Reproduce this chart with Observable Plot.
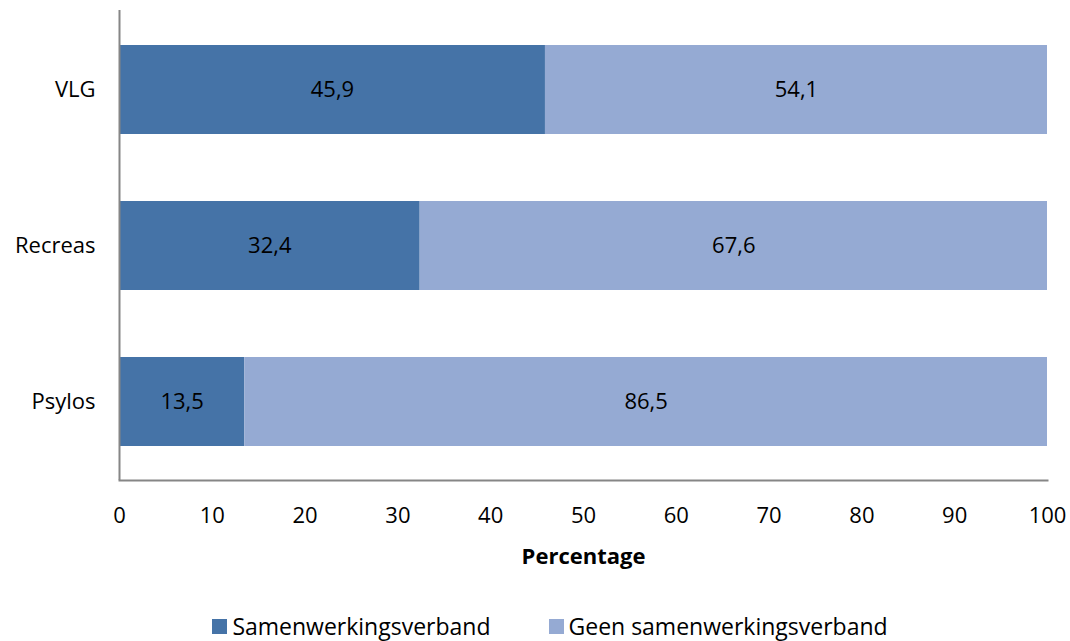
<!DOCTYPE html>
<html>
<head>
<meta charset="utf-8">
<script src="https://cdn.jsdelivr.net/npm/d3@7"></script>
<script src="https://cdn.jsdelivr.net/npm/@observablehq/plot@0.6"></script>
<style>
  body { margin: 0; background: #fff; font-family: "Open Sans", sans-serif; }
  #legend { display: flex; justify-content: center; gap: 58px; font-size: 23px; color: #000; margin-top: 40px; padding-left: 30px; }
  .item { display: flex; align-items: center; gap: 5px; }
  .sw { width: 15px; height: 15px; display: inline-block; }
</style>
</head>
<body>
<div id="chart"></div>
<div id="legend"></div>
<script>
const categories = ["VLG", "Recreas", "Psylos"];
const series = ["Samenwerkingsverband", "Geen samenwerkingsverband"];
const samen = [45.9, 32.4, 13.5];
const geen = [54.1, 67.6, 86.5];
const colors = ["#4573A7", "#95AAD3"];
const xTicks = [0, 10, 20, 30, 40, 50, 60, 70, 80, 90, 100];

const data = [];
categories.forEach((c, i) => {
  data.push({cat: c, series: series[0], value: samen[i]});
  data.push({cat: c, series: series[1], value: geen[i]});
});
const fmt = v => v.toFixed(1).replace(".", ",");

const chart = Plot.plot({
  width: 1070,
  height: 570,
  marginLeft: 119,
  marginRight: 23,
  marginTop: 10,
  marginBottom: 90,
  style: {fontFamily: "Open Sans, sans-serif", fontSize: "22px", color: "#000", background: "#fff"},
  x: {domain: [0, 100], ticks: xTicks, tickSize: 0, tickPadding: 27, label: null},
  y: {domain: categories, paddingInner: 0.43, paddingOuter: 0.215, tickSize: 0, tickPadding: 24, label: null},
  color: {domain: series, range: colors},
  marks: [
    Plot.barX(data, Plot.stackX({x: "value", y: "cat", fill: "series", order: series})),
    Plot.text(data, Plot.stackX({x: "value", y: "cat", z: "series", order: series, text: d => fmt(d.value), fill: "#000", fontSize: 22})),
    Plot.ruleX([0], {stroke: "#868686", strokeWidth: 2}),
    Plot.frame({anchor: "bottom", stroke: "#868686", strokeWidth: 2}),
    Plot.text(["Percentage"], {frameAnchor: "bottom", dy: 83, fontWeight: "bold", fontSize: 22, fill: "#000"})
  ]
});
document.getElementById("chart").appendChild(chart);

const legend = document.getElementById("legend");
series.forEach((s, i) => {
  const it = document.createElement("div");
  it.className = "item";
  const sw = document.createElement("span");
  sw.className = "sw";
  sw.style.background = colors[i];
  const t = document.createElement("span");
  t.textContent = s;
  it.appendChild(sw); it.appendChild(t);
  legend.appendChild(it);
});
</script>
</body>
</html>
